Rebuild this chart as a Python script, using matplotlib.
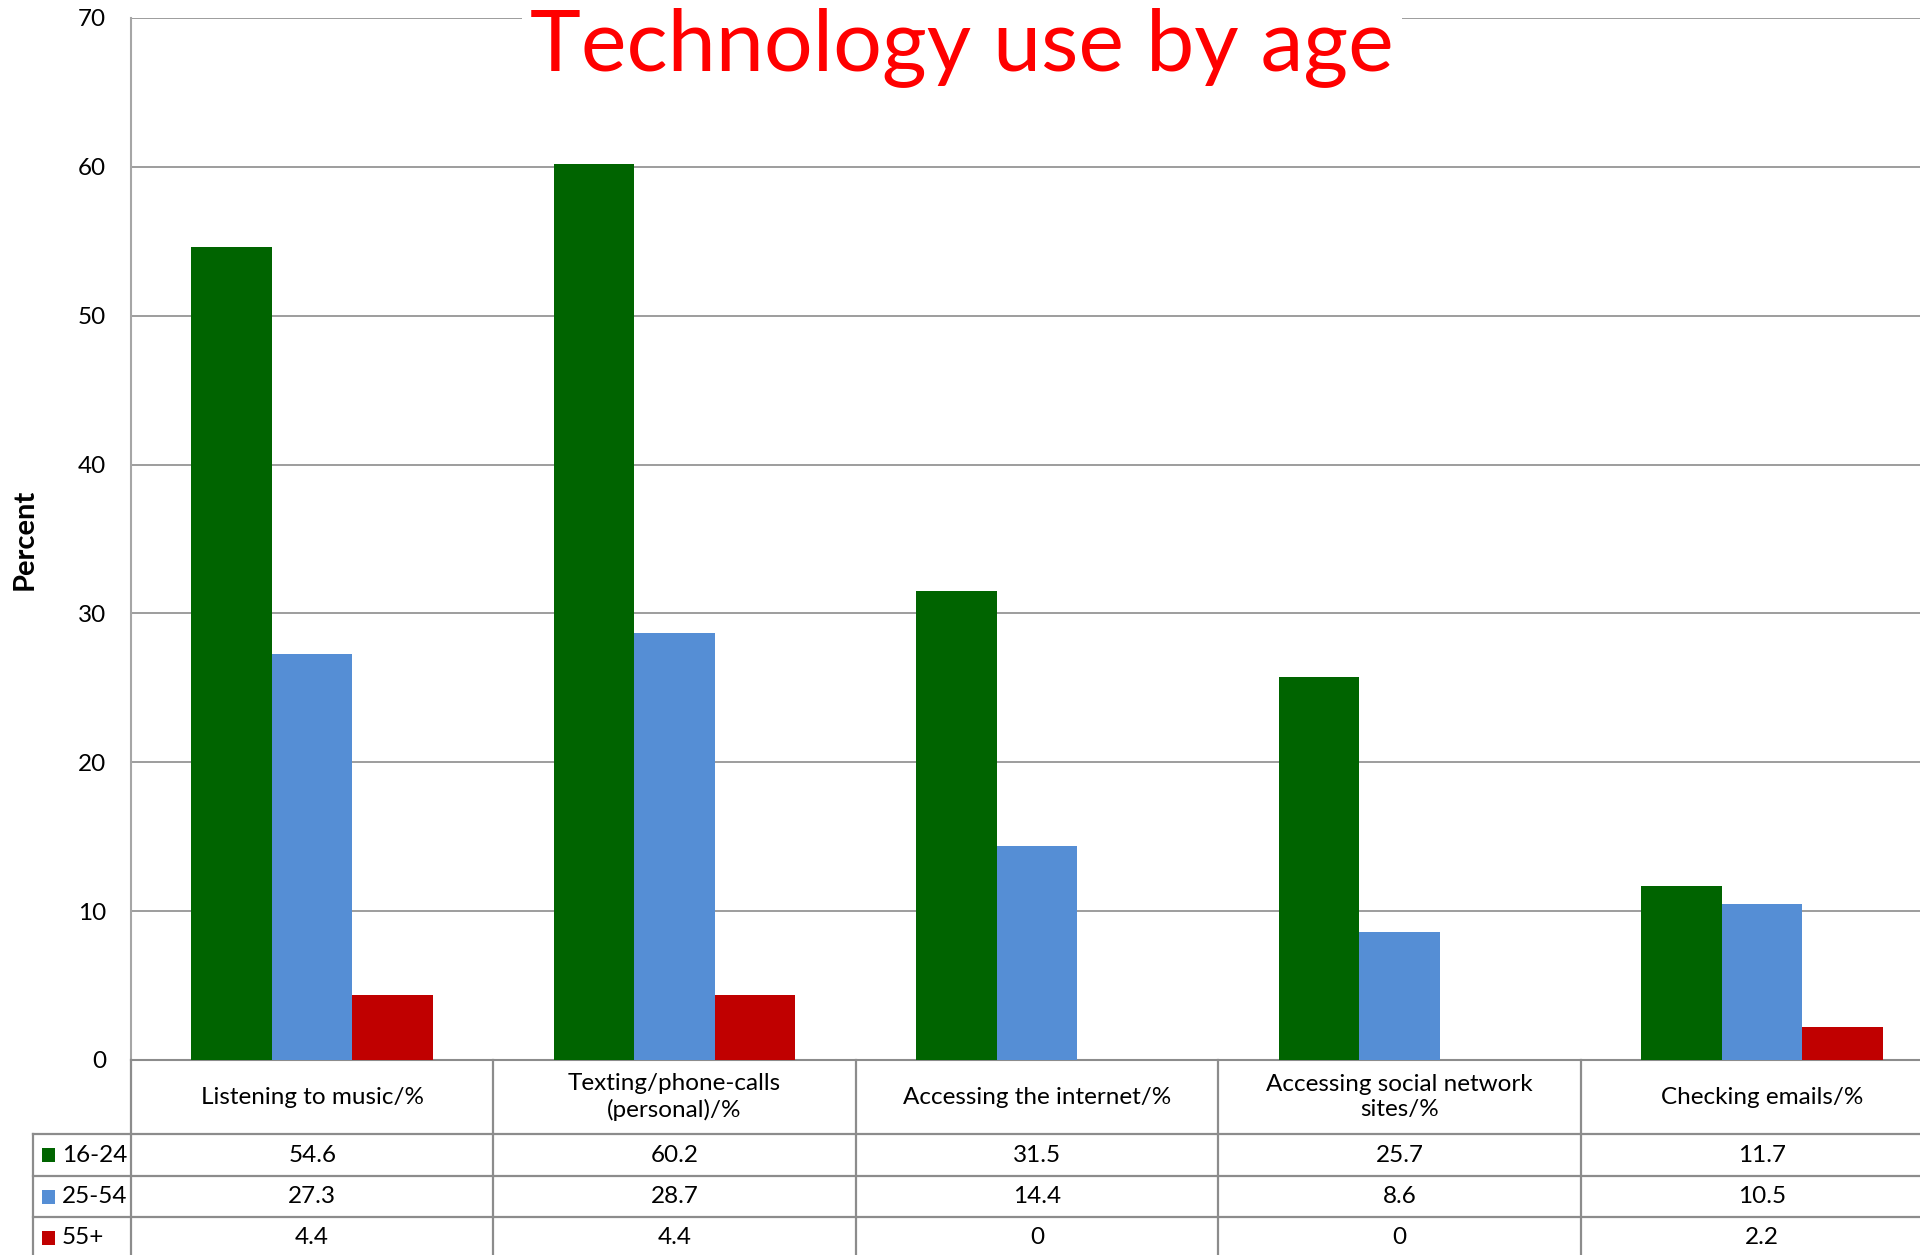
import matplotlib
matplotlib.use("Agg")
import matplotlib.pyplot as plt
from matplotlib.transforms import blended_transform_factory
from matplotlib.patches import Rectangle

plt.rcParams['font.family'] = ['Lato', 'DejaVu Sans']

categories = ["Listening to music/%", "Texting/phone-calls\n(personal)/%",
              "Accessing the internet/%", "Accessing social network\nsites/%",
              "Checking emails/%"]
series_names = ["16-24", "25-54", "55+"]
values_16_24 = [54.6, 60.2, 31.5, 25.7, 11.7]
values_25_54 = [27.3, 28.7, 14.4, 8.6, 10.5]
values_55_plus = [4.4, 4.4, 0, 0, 2.2]
colors = ["#006400", "#558ED5", "#C00000"]
yticks = [0, 10, 20, 30, 40, 50, 60, 70]

series = [values_16_24, values_25_54, values_55_plus]

W, H = 1920, 1255
fig = plt.figure(figsize=(W / 100, H / 100), dpi=100)

# plot area in pixel terms (from top-left)
left, right, top, bottom = 131, 1943, 18, 1060
ax = fig.add_axes([left / W, 1 - bottom / H, (right - left) / W, (bottom - top) / H])

n = len(categories)
bw = 1 / 4.5
for j, vals in enumerate(series):
    xs = [i + (j - 1) * bw for i in range(n)]
    ax.bar(xs, vals, width=bw, color=colors[j], zorder=3, linewidth=0)

ax.set_xlim(-0.5, n - 0.5)
ax.set_ylim(0, 70)
ax.set_yticks(yticks)
ax.set_yticklabels([str(t) for t in yticks], fontsize=17.5)
ax.set_xticks([])
ax.tick_params(axis='y', length=0, pad=18)
grid_col = "#8C8C8C"
ax.yaxis.grid(True, color=grid_col, linewidth=1.2, zorder=0)
for s in ["top", "right"]:
    ax.spines[s].set_visible(False)
ax.spines["left"].set_color("#A6A6A6")
ax.spines["left"].set_linewidth(1.5)
ax.spines["bottom"].set_color(grid_col)
ax.spines["bottom"].set_linewidth(1.5)

ax.set_ylabel("Percent", fontsize=21, fontweight="bold", va="center")
ax.yaxis.set_label_coords((25 - left) / (right - left), 0.5)

fig.text(962 / W, 1 - 70 / H, "Technology use by age", color="#FF0000",
         fontsize=62, ha="center", va="baseline",
         bbox=dict(facecolor="white", edgecolor="none", pad=6), zorder=5)

# data table beneath the plot
def fy(px):
    return 1 - px / H

tr = blended_transform_factory(ax.transData, fig.transFigure)
figtr = fig.transFigure
row_edges = [1060, 1134, 1176, 1217, 1259]
line_kw = dict(color="#8C8C8C", linewidth=1.6, clip_on=False)

# horizontal lines
for y in row_edges[1:]:
    fig.add_artist(plt.Line2D([33 / W, right / W], [fy(y), fy(y)], transform=figtr, **line_kw))
# vertical lines between category columns
for i in range(n + 1):
    x = i - 0.5
    fig.add_artist(plt.Line2D([x, x], [fy(1060), fy(1259)], transform=tr, **line_kw))
# legend column left border
fig.add_artist(plt.Line2D([33 / W, 33 / W], [fy(1134), fy(1259)], transform=figtr, **line_kw))

# category headers
for i, c in enumerate(categories):
    fig.text(i, fy((1060 + 1134) / 2), c, transform=tr, ha="center", va="center",
             fontsize=17.5, linespacing=1.25)

# values and legend keys
for j, vals in enumerate(series):
    yc = fy((row_edges[j + 1] + row_edges[j + 2]) / 2)
    fig.add_artist(Rectangle((42 / W, yc - 7 / H), 13 / W, 14 / H, transform=figtr,
                             facecolor=colors[j], edgecolor="none"))
    fig.text(62 / W, yc, series_names[j], transform=figtr, ha="left", va="center", fontsize=17.5)
    for i, v in enumerate(vals):
        label = f"{v:g}"
        fig.text(i, yc, label, transform=tr, ha="center", va="center", fontsize=17.5)

fig.savefig("out.png", dpi=100, facecolor="white")
